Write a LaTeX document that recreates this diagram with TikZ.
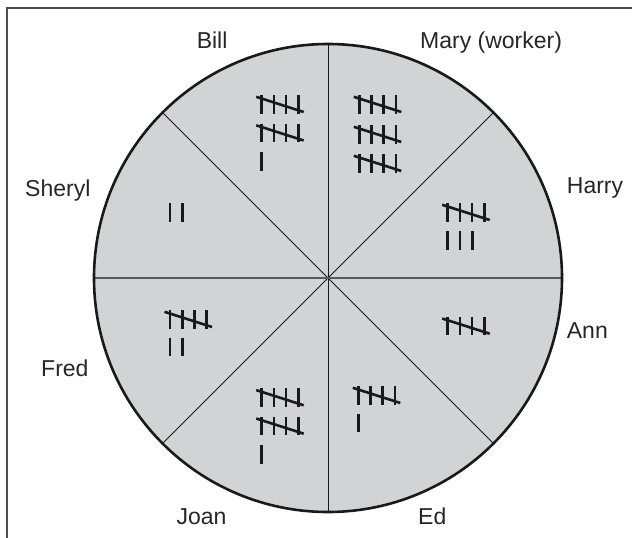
\documentclass[tikz,border=0pt]{standalone}
\usepackage{fontspec}
\setmainfont{Liberation Sans}
\definecolor{cfill}{HTML}{D1D3D4}
\begin{document}
\begin{tikzpicture}[x=1pt,y=-1pt,
  lbl/.style={font=\fontsize{23}{26}\selectfont, anchor=base west, inner sep=0pt, text=black!85},
  tal/.style={line width=2.6pt, line cap=butt, draw=black!90},
  divider/.style={line width=0.9pt, draw=black!90},
  hdivider/.style={line width=1.6pt, draw=black!65},
  rim/.style={line width=2.6pt, draw=black!90},
  frame/.style={line width=1.4pt, draw=black!70},
  fivepic/.pic={\draw[tal] (0,0)--(0,18.5) (12.2,0)--(12.2,18.5) (24.4,0)--(24.4,18.5) (36.6,0)--(36.6,18.5);
                \draw[tal] (-5.5,1.8)--(42,17);},
  onepic/.pic={\draw[tal] (0,0)--(0,18.5);}
]
\useasboundingbox (0,0) rectangle (632,538);
\draw[frame] (632,8) -- (7,8) -- (7,538);
\coordinate (c) at (328,278);
\fill[cfill] (c) circle[radius=234];
\foreach \a in {45,90,135,225,270,315}{\draw[divider] (c) -- +(\a:234);}
\draw[hdivider] (c) ++(-234,0) -- ++(468,0);
\draw[rim] (c) circle[radius=234];
% labels
\node[lbl] (bill) at (196.6,48) {Bill};
\node[lbl] (mary) at (420,48) {Mary (worker)};
\node[lbl] (harry) at (566.7,193) {Harry};
\node[lbl] (sheryl) at (25,196) {Sheryl};
\node[lbl] (fred) at (41,376) {Fred};
\node[lbl] (ann) at (566.7,338) {Ann};
\node[lbl] (joan) at (176.4,524) {Joan};
\node[lbl] (ed) at (418,524) {Ed};
% tallies
\pic at (261.7,95) {fivepic};
\pic at (261.7,123.5) {fivepic};
\pic at (261.7,152) {onepic};
\pic at (359.3,95) {fivepic};
\pic at (359.3,125) {fivepic};
\pic at (359.3,154) {fivepic};
\pic at (447.7,203) {fivepic};
\pic at (447.7,231) {onepic};
\pic at (460,231) {onepic};
\pic at (472.2,231) {onepic};
\pic at (447.7,316.7) {fivepic};
\pic at (170,203) {onepic};
\pic at (182.3,203) {onepic};
\pic at (170,310) {fivepic};
\pic at (170,337.5) {onepic};
\pic at (182.3,337.5) {onepic};
\pic at (261.7,388.3) {fivepic};
\pic at (261.7,416.7) {fivepic};
\pic at (261.7,445) {onepic};
\pic at (358.3,386) {fivepic};
\pic at (358.3,413.5) {onepic};
\end{tikzpicture}
\end{document}
